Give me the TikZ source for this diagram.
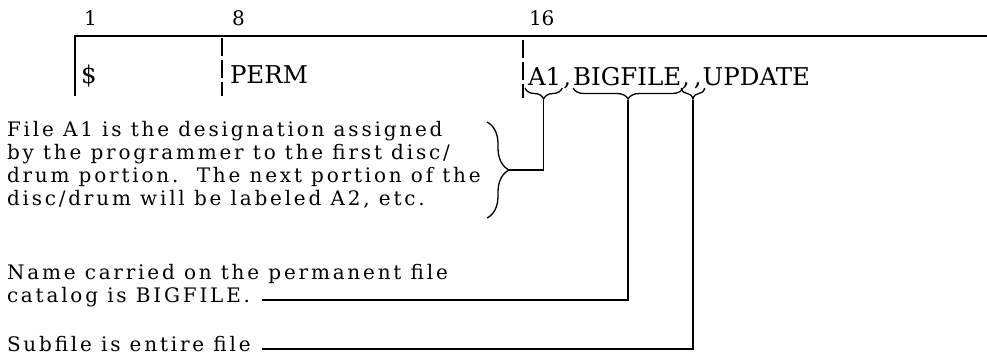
\documentclass[tikz,border=0pt]{standalone}
\usepackage{fontspec}
\setmainfont{DejaVu Serif}
\newfontfamily\notefont[LetterSpace=14]{DejaVu Serif}
\usetikzlibrary{calc,decorations.pathreplacing}

\begin{document}
\begin{tikzpicture}[x=1pt, y=-1pt,
  every node/.style={inner sep=0pt, outer sep=0pt},
  rule/.style={line width=1.4pt},
  colmark/.style={line width=1.4pt, dash pattern=on 18pt off 4pt},
  colnum/.style={font=\fontsize{20}{24}\selectfont, anchor=base west},
  cardtext/.style={font=\fontsize{24.5}{28}\selectfont, anchor=base west},
  note/.style={font=\notefont\fontsize{20}{23}\selectfont, align=left, anchor=base west},
  brc/.style={line width=1.3pt, decorate, decoration={brace, amplitude=#1}},
  lead/.style={line width=1.4pt}]
  \useasboundingbox (0,0) rectangle (987,360);
  % card columns
  \node[colnum] (c1) at (84,25) {1};
  \node[colnum] (c8) at (232,25) {8};
  \node[colnum] (c16) at (529,25) {16};
  \coordinate (TL) at (75,36);
  \coordinate (TR) at (987,36);
  \draw[rule] (75,96) -- (TL) -- (TR);
  \draw[colmark] (222,38) -- (222,96);
  \draw[colmark] (523,40) -- (523,98);
  % statement
  \node[cardtext] (dollar) at (81,83) {\$};
  \node[cardtext] (perm) at (230,83) {PERM};
  \node[cardtext] (pA) at (528,85) {A1};
  \node[cardtext] (pc1) at ([xshift=2pt]pA.base east) {,};
  \node[cardtext] (pB) at ([xshift=2pt]pc1.base east) {BIGFILE};
  \node[cardtext] (pc2) at ([xshift=1pt]pB.base east) {,\hspace{4pt},};
  \node[cardtext] (pD) at ([xshift=1pt]pc2.base east) {UPDATE};
  % braces under the parameters
  \draw[brc=11pt] ($(pA.base east)+(1,3)$) -- ($(pA.base west)+(-3,3)$) coordinate[midway] (mA);
  \draw[brc=11pt] ($(pB.base east)+(2,3)$) -- ($(pB.base west)+(0,3)$) coordinate[midway] (mB);
  \draw[brc=11pt] ($(pc2.base east)+(3,3)$) -- ($(pc2.base west)+(-1,3)$) coordinate[midway] (mC);
  \coordinate (tipA) at ($(mA)+(0,12)$);
  \coordinate (tipB) at ($(mB)+(0,12)$);
  \coordinate (tipC) at ($(mC)+(0,12)$);
  % explanations
  \node[note] (fileA) at (7,205) {File A1 is the designation assigned\\
    by the programmer to the first disc/\\
    drum portion.\ \ The next portion of the\\
    disc/drum will be labeled A2, etc.};
  \draw[brc=22pt] (487,122) -- (487,218) coordinate[midway] (mD);
  \coordinate (tipD) at ($(mD)+(22,0)$);
  \node[note] (name) at (7,302) {Name carried on the permanent file\\
    catalog is BIGFILE.};
  \node[note] (sub) at (7,351) {Subfile is entire file};
  \coordinate (nameEnd) at (262,300);
  \coordinate (subEnd) at (262,349);
  % leaders
  \draw[lead] (tipA) |- (tipD);
  \draw[lead] (tipB) |- (nameEnd);
  \draw[lead] (tipC) |- (subEnd);
\end{tikzpicture}
\end{document}
